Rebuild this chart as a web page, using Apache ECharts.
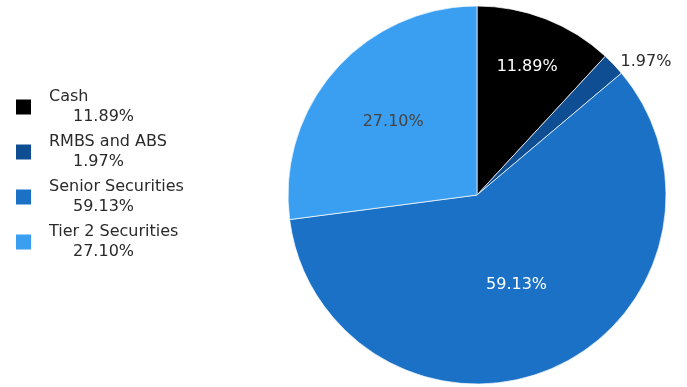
<!DOCTYPE html>
<html>
<head>
<meta charset="utf-8">
<style>
  html, body { margin: 0; padding: 0; background: #fff; }
  #chart { width: 687px; height: 387px; }
</style>
<script src="https://cdn.jsdelivr.net/npm/echarts@6/dist/echarts.min.js"></script>
</head>
<body>
<div id="chart"></div>
<script>
// Portfolio allocation by asset type (percent of total)
const categories = ['Cash', 'RMBS and ABS', 'Senior Securities', 'Tier 2 Securities'];
const shares = [11.89, 1.97, 59.13, 27.10];

const sliceColors = ['#000000', '#0f4e92', '#1a71c6', '#3a9ff0'];
const FONT = '"DejaVu Sans", Verdana, sans-serif';
const CENTER = [477, 195];
const RADIUS = 189;

const fmt = v => v.toFixed(2) + '%';

const chart = echarts.init(document.getElementById('chart'), null, { renderer: 'canvas' });

// Main pie: slices only, with the small slice labelled just outside its edge
const mainSeries = {
  type: 'pie',
  center: CENTER,
  radius: [0, RADIUS],
  startAngle: 90,
  clockwise: true,
  avoidLabelOverlap: false,
  animation: false,
  silent: true,
  itemStyle: { borderColor: '#ffffff', borderWidth: 0.7 },
  label: { show: false },
  labelLine: { show: false, length: 4, length2: 0 },
  data: categories.map((name, i) => ({
    name,
    value: shares[i],
    itemStyle: { color: sliceColors[i] },
    label: i === 1 ? {
      show: true,
      position: 'outside',
      distanceToLabelLine: 4,
      formatter: p => fmt(p.value),
      color: '#2a2a2a',
      fontFamily: FONT,
      fontSize: 16
    } : { show: false }
  }))
};

// Transparent rings that carry the in-slice labels at different depths
const insideLabels = [
  { index: 0, ring: [80, RADIUS], color: '#ffffff' },
  { index: 2, ring: [0, 190], color: '#ffffff' },
  { index: 3, ring: [28, RADIUS], color: '#444444' }
];

const labelSeries = insideLabels.map(cfg => ({
  type: 'pie',
  center: CENTER,
  radius: cfg.ring,
  startAngle: 90,
  clockwise: true,
  avoidLabelOverlap: false,
  animation: false,
  silent: true,
  z: 5,
  itemStyle: { color: 'rgba(0,0,0,0)', borderWidth: 0 },
  labelLine: { show: false },
  data: categories.map((name, i) => ({
    name,
    value: shares[i],
    label: i === cfg.index ? {
      show: true,
      position: 'inside',
      formatter: p => fmt(p.value),
      color: cfg.color,
      fontFamily: FONT,
      fontSize: 16
    } : { show: false }
  }))
}));

chart.setOption({
  backgroundColor: '#ffffff',
  animation: false,
  legend: {
    orient: 'vertical',
    left: 14,
    top: 89,
    padding: 0,
    itemWidth: 17,
    itemHeight: 17,
    itemGap: 9,
    icon: 'rect',
    selectedMode: false,
    data: categories.map((name, i) => ({
      name,
      itemStyle: { color: sliceColors[i] }
    })),
    formatter: name => {
      const i = categories.indexOf(name);
      return '{n|' + name + '}\n{v|' + fmt(shares[i]) + '}';
    },
    textStyle: {
      fontFamily: FONT,
      fontSize: 16,
      color: '#2a2a2a',
      rich: {
        n: { fontFamily: FONT, fontSize: 16, lineHeight: 20, color: '#2a2a2a', padding: [0, 0, 0, 12] },
        v: { fontFamily: FONT, fontSize: 16, lineHeight: 20, color: '#2a2a2a', padding: [0, 0, 0, 36] }
      }
    }
  },
  series: [mainSeries, ...labelSeries]
});
</script>
</body>
</html>
